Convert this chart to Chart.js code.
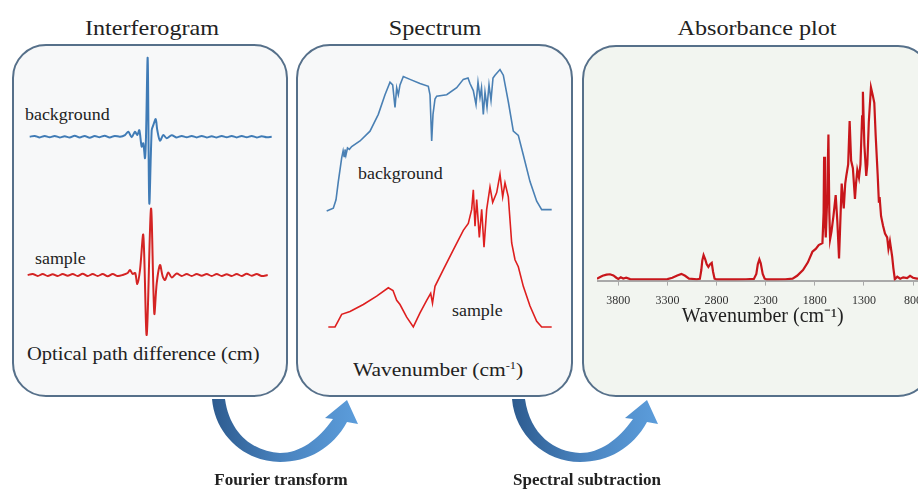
<!DOCTYPE html>
<html>
<head>
<meta charset="utf-8">
<script src="https://cdn.jsdelivr.net/npm/chart.js@4.4.0/dist/chart.umd.min.js"></script>
<style>
  html, body { margin: 0; padding: 0; }
  body { width: 918px; height: 490px; overflow: hidden; position: relative; background: #fff;
         font-family: 'Liberation Serif', 'Times New Roman', serif; color: #222; }
  .panel { position: absolute; border: 2px solid #56708a; border-radius: 34px; box-sizing: border-box; }
  .txt { position: absolute; white-space: nowrap; line-height: 1; }
  .box { position: absolute; }
</style>
</head>
<body>

<div class="panel" style="left:12px;top:44px;width:276px;height:353px;background:#f7f8f9"></div>
<div class="panel" style="left:296px;top:44px;width:277px;height:353px;background:#f7f8f9"></div>
<div class="panel" style="left:582px;top:45px;width:350px;height:352px;background:#f2f5f0"></div>

<div class="txt" style="left:52px;width:200px;top:18px;font-size:21px;text-align:center;transform:scaleX(1.15)">Interferogram</div>
<div class="txt" style="left:335px;width:200px;top:18px;font-size:21px;text-align:center;transform:scaleX(1.15)">Spectrum</div>
<div class="txt" style="left:657px;width:200px;top:18px;font-size:21px;text-align:center;transform:scaleX(1.15)">Absorbance plot</div>

<div class="txt" style="left:25px;top:107px;font-size:16px;transform:scaleX(1.12);transform-origin:left">background</div>
<div class="txt" style="left:35px;top:251px;font-size:16px;transform:scaleX(1.12);transform-origin:left">sample</div>
<div class="txt" style="left:27px;top:344px;font-size:19px;transform:scaleX(1.08);transform-origin:left">Optical path difference (cm)</div>

<div class="txt" style="left:358px;top:166px;font-size:16px;transform:scaleX(1.12);transform-origin:left">background</div>
<div class="txt" style="left:452px;top:303px;font-size:16px;transform:scaleX(1.12);transform-origin:left">sample</div>
<div class="txt" style="left:353px;top:360px;font-size:19px;transform:scaleX(1.13);transform-origin:left">Wavenumber (cm<sup style="font-size:11px">-1</sup>)</div>

<div class="box" style="left:20px;top:50px;width:260px;height:300px"><canvas id="ifg"></canvas></div>
<div class="box" style="left:310px;top:55px;width:252px;height:290px"><canvas id="spec"></canvas></div>
<div class="box" style="left:597px;top:74px;width:333px;height:254px"><canvas id="abs"></canvas></div>

<svg style="position:absolute;left:0;top:0" width="918" height="490">
  <defs>
    <linearGradient id="arrowGrad" x1="0" y1="0" x2="1" y2="0">
      <stop offset="0" stop-color="#2d5b8f"/>
      <stop offset="0.5" stop-color="#4a84c0"/>
      <stop offset="1" stop-color="#5c9ddb"/>
    </linearGradient>
  </defs>
  <path fill="url(#arrowGrad)" d="M212,399 L225,399 C230,435 255,452 280,453 C300,453 318,440 333,419 L325,418 L347,400 L358,424 L347,422 C333,448 308,462 280,462 C245,462 215,435 212,399 Z"/>
  <path fill="url(#arrowGrad)" transform="translate(300,0)" d="M212,399 L225,399 C230,435 255,452 280,453 C300,453 318,440 333,419 L325,418 L347,400 L358,424 L347,422 C333,448 308,462 280,462 C245,462 215,435 212,399 Z"/>
</svg>

<div class="txt" style="left:181px;width:200px;top:471px;font-size:17px;font-weight:bold;text-align:center">Fourier transform</div>
<div class="txt" style="left:487px;width:200px;top:471px;font-size:17px;font-weight:bold;text-align:center">Spectral subtraction</div>

<script>
// interferogram: optical path difference (cm) and detector signal (a.u.)
const bgOpd = [-1.18,-1.13,-1.08,-1.03,-0.98,-0.93,-0.88,-0.83,-0.78,-0.73,-0.68,-0.63,-0.58,-0.53,-0.48,-0.43,-0.38,-0.33,
  -0.277,-0.227,-0.194,-0.16,-0.127,-0.104,-0.084,-0.06,-0.044,-0.027,-0.017,0,0.016,0.04,0.056,0.08,0.096,0.123,0.156,0.19,0.24,
  0.29,0.34,0.39,0.44,0.49,0.54,0.59,0.64,0.69,0.74,0.79,0.84,0.89,0.94,0.99,1.04,1.09,1.14,1.19,1.24];
const bgSignal = [0,0.015,-0.015,0.015,-0.01,0.015,-0.015,0.01,-0.015,0.02,-0.015,0.015,-0.02,0.015,-0.01,0.02,-0.015,0.015,
  0,0.033,0.1,-0.01,0.1,0.033,0.13,-0.2,-0.13,-0.43,0,1.57,-1.33,0.13,0.23,0.35,0.13,-0.08,0.033,-0.03,0.03,
  -0.015,0.015,-0.01,0.015,-0.015,0.015,-0.015,0.01,-0.015,0.015,-0.01,0.015,-0.015,0.015,-0.01,0.015,-0.015,0.01,-0.01,0];

const smpOpd = [-1.2,-1.15,-1.1,-1.05,-1.0,-0.95,-0.9,-0.85,-0.8,-0.75,-0.7,-0.65,-0.6,-0.55,-0.5,-0.45,-0.4,-0.35,-0.3,
  -0.25,-0.2,-0.177,-0.15,-0.125,-0.104,-0.077,-0.044,-0.01,0.033,0.066,0.09,0.123,0.15,0.173,0.206,0.24,0.29,
  0.34,0.39,0.44,0.49,0.54,0.59,0.64,0.69,0.74,0.79,0.84,0.89,0.94,0.99,1.04,1.09,1.14,1.2];
const smpSignal = [0,0.02,-0.02,0.02,-0.02,0.015,-0.02,0.02,-0.015,0.02,-0.02,0.025,-0.02,0.02,-0.02,0.02,-0.025,0.02,-0.02,
  0,0.04,0.1,0.02,0.04,-0.18,0.1,0.8,-1.2,1.33,-0.77,-0.17,0.2,-0.03,-0.1,0.05,-0.05,0.03,
  -0.02,0.02,-0.02,0.02,-0.015,0.02,-0.02,0.02,-0.02,0.015,-0.02,0.02,-0.02,0.025,-0.015,0.02,-0.02,0];

// single beam spectra: wavenumber (cm-1) and intensity (a.u.)
const bgWn = [4293,4187,4144,4107,4053,4030,4015,4000,3985,3960,3930,3893,3760,3600,3467,3360,3280,3237,3200,3173,
  3147,3120,3067,2960,2800,2667,2640,2613,2592,2560,2533,2373,2213,2107,2032,2000,1947,1904,1872,1840,
  1816,1787,1760,1728,1696,1664,1632,1600,1520,1467,1387,1307,1227,1147,1040,933,853,693];
const bgInt = [0,0.02,0.08,0.21,0.38,0.43,0.39,0.44,0.40,0.45,0.44,0.46,0.50,0.57,0.69,0.83,0.92,0.90,0.74,0.88,
  0.83,0.90,0.96,0.94,0.91,0.89,0.83,0.50,0.69,0.80,0.82,0.83,0.88,0.94,0.95,0.91,0.86,0.76,0.92,0.81,
  0.88,0.69,0.85,0.74,0.90,0.79,0.95,0.97,1.01,0.97,0.78,0.57,0.54,0.40,0.21,0.07,0.01,0.01];

const smpWn = [4267,4160,4112,4053,3920,3707,3493,3307,3232,3173,3120,3013,2907,2800,2693,2629,2600,2560,2427,2267,
  2107,2027,1973,1947,1920,1893,1851,1813,1776,1733,1680,1637,1573,1520,1477,1440,1387,1333,1280,1227,
  1147,1040,933,853,693];
const smpInt = [0,0,0.04,0.09,0.11,0.16,0.22,0.28,0.26,0.19,0.16,0.07,0,0.10,0.19,0.24,0.17,0.29,0.41,0.55,
  0.69,0.74,0.84,0.98,0.72,0.91,0.64,0.84,0.57,0.84,1.00,0.89,0.96,1.09,0.93,1.03,0.93,0.60,0.48,0.43,
  0.29,0.15,0.04,0,0];

// absorbance spectrum
const absWn = [4017,3990,3960,3920,3885,3850,3820,3800,3775,3750,
  3720,3680,3600,3500,3400,3300,3250,3200,3158,3120,
  3080,3000,2970,2955,2945,2932,2915,2900,2883,2865,
  2849,2835,2820,2800,2700,2600,2500,2420,2395,2380,
  2364,2350,2330,2310,2290,2200,2100,2026,1980,1920,
  1870,1824,1790,1760,1722,1710,1705,1696,1688,1675,
  1661,1652,1644,1630,1610,1587,1570,1553,1540,1526,
  1505,1490,1479,1460,1445,1430,1412,1391,1380,1367,
  1350,1335,1318,1310,1295,1276,1265,1250,1228,1210,
  1194,1180,1160,1147,1140,1125,1105,1085,1063,1050,
  1035,1012,1000,985,960,930,900,860,830,800,
  760,700];
const absVal = [0.005,0.012,0.02,0.026,0.028,0.022,0.01,0.004,0.012,0.006,
  0.01,0.003,0.002,0.002,0.002,0.003,0.01,0.022,0.03,0.02,
  0.005,0.002,0.004,0.05,0.1,0.127,0.105,0.08,0.066,0.08,
  0.087,0.04,0.005,0.001,0.002,0.001,0.002,0.004,0.03,0.08,
  0.105,0.085,0.03,0.005,0.001,0.001,0.002,0.005,0.02,0.05,
  0.09,0.145,0.16,0.18,0.19,0.35,0.64,0.3,0.22,0.4,
  0.755,0.35,0.21,0.25,0.33,0.44,0.3,0.11,0.3,0.5,
  0.37,0.5,0.54,0.6,0.825,0.62,0.58,0.42,0.5,0.57,
  0.53,0.6,0.85,0.977,0.7,0.54,0.6,0.82,1.0,0.96,
  0.92,0.75,0.55,0.4,0.43,0.33,0.28,0.24,0.22,0.16,
  0.2,0.12,0.06,0.002,0.015,0.005,0.012,0.008,0.02,0.01,
  0.005,0.005];
const absTicks = [3800, 3300, 2800, 2300, 1800, 1300, 800];

const blue = '#3f7bb6';
const red = '#d42424';
const pts = (xs, ys) => xs.map((x, i) => ({ x: x, y: ys[i] }));

function baseOptions(scales) {
  return {
    responsive: true,
    maintainAspectRatio: false,
    animation: false,
    events: [],
    layout: { padding: 0 },
    plugins: { legend: { display: false }, tooltip: { enabled: false } },
    scales: scales
  };
}

new Chart(document.getElementById('ifg'), {
  type: 'line',
  data: {
    datasets: [
      { data: pts(bgOpd, bgSignal), yAxisID: 'yB', borderColor: blue, borderWidth: 2, pointRadius: 0, tension: 0.3 },
      { data: pts(smpOpd, smpSignal), yAxisID: 'yS', borderColor: red, borderWidth: 2, pointRadius: 0, tension: 0.3 }
    ]
  },
  options: baseOptions({
    x: { type: 'linear', display: false, min: -1.277, max: 1.323 },
    yB: { display: false, min: -4.266, max: 1.734 },
    yS: { display: false, min: -1.5, max: 4.5 }
  })
});

new Chart(document.getElementById('spec'), {
  type: 'line',
  data: {
    datasets: [
      { data: pts(bgWn, bgInt), yAxisID: 'yB', borderColor: '#4a80b4', borderWidth: 1.6, pointRadius: 0, tension: 0 },
      { data: pts(smpWn, smpInt), yAxisID: 'yS', borderColor: '#de1f1f', borderWidth: 1.6, pointRadius: 0, tension: 0 }
    ]
  },
  options: baseOptions({
    x: { type: 'linear', display: false, reverse: true, min: 528, max: 4560 },
    yB: { display: false, min: -0.957, max: 1.114 },
    yS: { display: false, min: -0.129, max: 1.943 }
  })
});

new Chart(document.getElementById('abs'), {
  type: 'line',
  data: {
    datasets: [
      { data: pts(absWn, absVal), borderColor: '#c8161b', borderWidth: 2.2, pointRadius: 0, tension: 0 }
    ]
  },
  options: baseOptions({
    x: {
      type: 'linear', reverse: true, min: 641, max: 4017,
      afterBuildTicks: function (scale) { scale.ticks = absTicks.map(v => ({ value: v })); },
      border: { display: true, color: '#a9a9a9', width: 2 },
      grid: { display: true, drawOnChartArea: false, drawTicks: true, tickLength: 5, color: '#a9a9a9' },
      ticks: { padding: 8, color: '#333', maxRotation: 0, autoSkip: false,
               font: { family: 'Liberation Serif', size: 12 }, callback: v => String(v) },
      title: { display: true, text: 'Wavenumber (cm\u207B\u00B9)', color: '#222',
               font: { family: 'Liberation Serif', size: 20, lineHeight: 1 }, padding: { top: -9, bottom: 1 } }
    },
    y: { display: false, min: -0.005, max: 1.07 }
  })
});
</script>
</body>
</html>
